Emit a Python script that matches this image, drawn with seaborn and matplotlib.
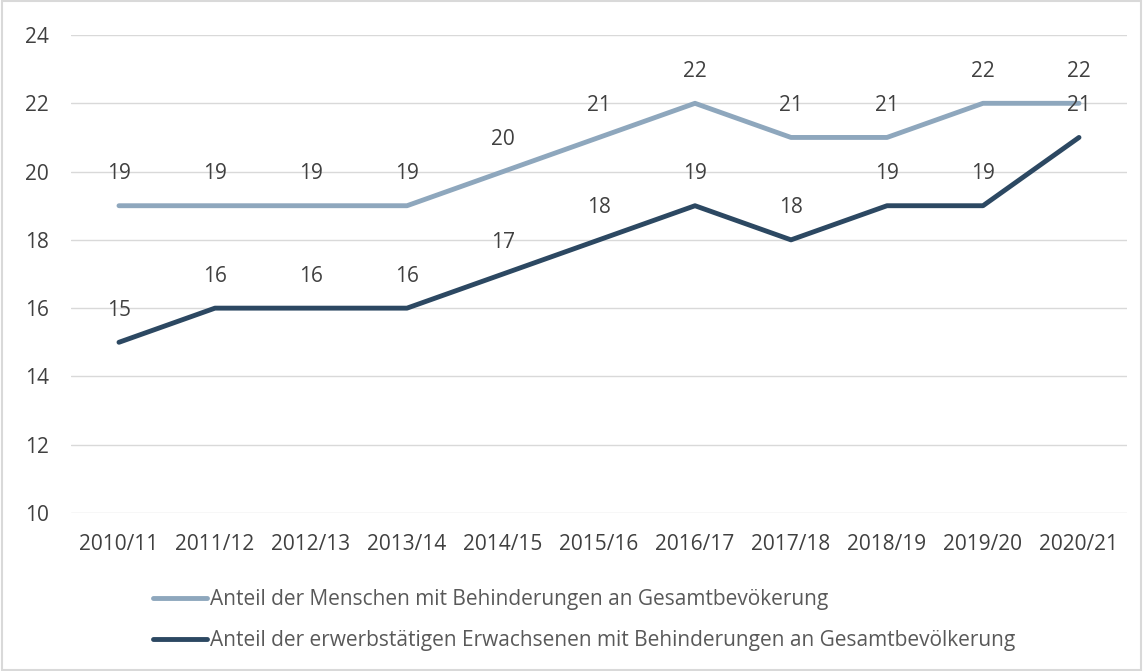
import pandas as pd
import seaborn as sns
import matplotlib.pyplot as plt
from matplotlib.patches import Rectangle

years = ['2010/11', '2011/12', '2012/13', '2013/14', '2014/15', '2015/16',
         '2016/17', '2017/18', '2018/19', '2019/20', '2020/21']
share_all = [19, 19, 19, 19, 20, 21, 22, 21, 21, 22, 22]
share_employed = [15, 16, 16, 16, 17, 18, 19, 18, 19, 19, 21]
series_names = ['Anteil der Menschen mit Behinderungen an Gesamtbevökerung',
                'Anteil der erwerbstätigen Erwachsenen mit Behinderungen an Gesamtbevölkerung']
colors = ['#8EA7BD', '#2C4862']

df = pd.concat([
    pd.DataFrame({'year': years, 'value': share_all, 'series': series_names[0]}),
    pd.DataFrame({'year': years, 'value': share_employed, 'series': series_names[1]}),
])

sns.set_style('white')
plt.rcParams['font.family'] = ['Open Sans', 'DejaVu Sans']
txt = '#404040'
fs = 15

fig = plt.figure(figsize=(11.43, 6.71), dpi=100)
ax = fig.add_axes([0.0621, 0.2355, 0.9239, 0.7123])
sns.lineplot(data=df, x='year', y='value', hue='series', palette=colors,
             linewidth=3.5, ax=ax, legend=False, sort=False)
for l in ax.lines:
    l.set_solid_capstyle('round')

# data labels above each point
for vals in (share_all, share_employed):
    for i, v in enumerate(vals):
        ax.annotate(str(v), (i, v), xytext=(0, 23), textcoords='offset points',
                    ha='center', va='center', fontsize=fs, color=txt)

ax.set_xlim(-0.5, len(years) - 0.5)
ax.set_ylim(10, 24)
ax.set_yticks(range(10, 25, 2))
ax.yaxis.grid(True, color='#D9D9D9', linewidth=1)
ax.xaxis.grid(False)
ax.set_xlabel('')
ax.set_ylabel('')
ax.tick_params(axis='x', length=0, pad=15, labelsize=fs, labelcolor=txt)
ax.tick_params(axis='y', length=0, pad=16, labelsize=fs, labelcolor=txt)
sns.despine(ax=ax, left=True, bottom=True, top=True, right=True)

handles = [plt.Line2D([], [], color=c, linewidth=3.5, solid_capstyle='round') for c in colors]
fig.legend(handles, series_names, loc='center left', bbox_to_anchor=(0.134, 0.0755),
           bbox_transform=fig.transFigure, frameon=False, fontsize=fs,
           labelcolor='#595959', handlelength=2.6, handletextpad=0.12,
           labelspacing=0.97, borderpad=0, borderaxespad=0)

fig.patches.append(Rectangle((0.002, 0.002), 0.996, 0.996, transform=fig.transFigure,
                             fill=False, edgecolor='#D9D9D9', linewidth=1.5))

fig.savefig('out.png', dpi=100)
